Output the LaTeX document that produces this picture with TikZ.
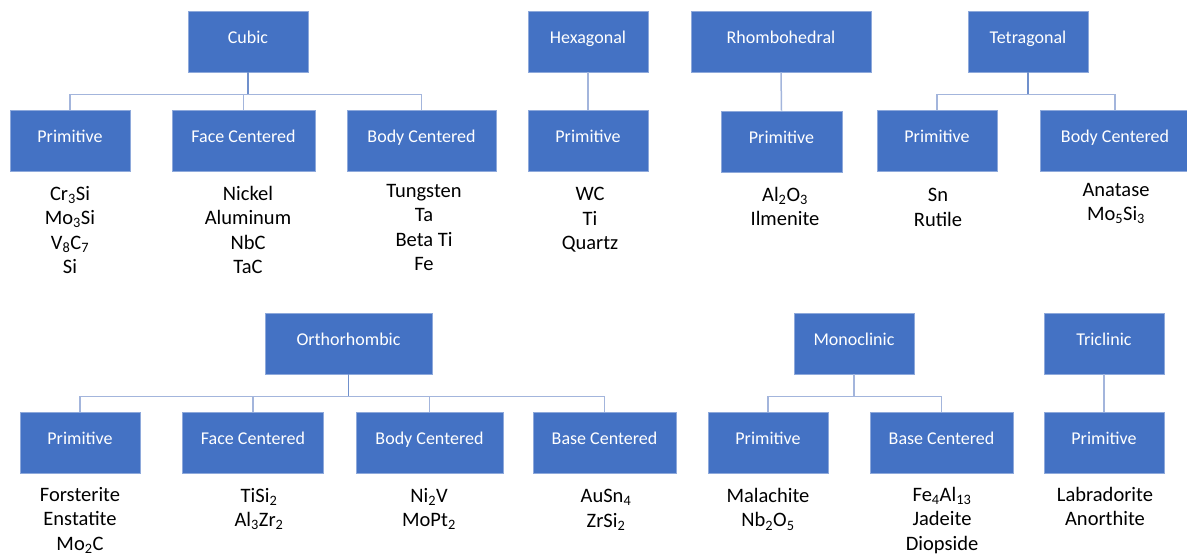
\documentclass[tikz,border=0pt]{standalone}
\usepackage{fontspec}
\setmainfont{Carlito}
\definecolor{boxfill}{HTML}{4472C4}
\definecolor{boxline}{HTML}{8EA9DB}
\definecolor{busline}{HTML}{A3B5DC}
\definecolor{stemline}{HTML}{7090CC}
\tikzset{
  box/.style={rectangle, fill=boxfill, draw=boxline, line width=0.8pt,
    minimum height=61pt, inner sep=0pt, text=white,
    font=\fontsize{18}{20}\selectfont, text height=12pt, text depth=8pt},
  items/.style={anchor=north, align=center, inner sep=0pt,
    font=\fontsize{20.5}{24.5}\selectfont, text=black},
  bus/.style={draw=busline, line width=1.5pt},
  stem/.style={draw=stemline, line width=1.5pt}
}
\begin{document}
\begin{tikzpicture}[x=1pt,y=-1pt]
\useasboundingbox (0,0) rectangle (1187,556);
% top parents
\node[box, minimum width=120pt] (cubic) at (248,41.5) {Cubic};
\node[box, minimum width=120pt] (hex) at (588,41.5) {Hexagonal};
\node[box, minimum width=180pt] (rhomb) at (781,41.5) {Rhombohedral};
\node[box, minimum width=120pt] (tetra) at (1028,41.5) {Tetragonal};
% top children
\node[box, minimum width=120pt] (cprim) at (70,140.5) {Primitive};
\node[box, minimum width=143pt] (cface) at (243.5,140.5) {Face Centered};
\node[box, minimum width=149pt] (cbody) at (421.5,140.5) {Body Centered};
\node[box, minimum width=120pt] (hprim) at (588,140.5) {Primitive};
\node[box, minimum width=121pt] (rprim) at (781.5,141.5) {Primitive};
\node[box, minimum width=120pt] (tprim) at (937,140.5) {Primitive};
\node[box, minimum width=150pt] (tbody) at (1115,140.5) {Body Centered};
% bottom parents
\node[box, minimum width=167pt] (ortho) at (348.5,343.5) {Orthorhombic};
\node[box, minimum width=120pt] (mono) at (854,343.5) {Monoclinic};
\node[box, minimum width=120pt] (tric) at (1104,343.5) {Triclinic};
% bottom children
\node[box, minimum width=120pt] (oprim) at (80,442.5) {Primitive};
\node[box, minimum width=141pt] (oface) at (253,442.5) {Face Centered};
\node[box, minimum width=147pt] (obody) at (429.5,442.5) {Body Centered};
\node[box, minimum width=143pt] (obase) at (604.5,442.5) {Base Centered};
\node[box, minimum width=120pt] (mprim) at (768,442.5) {Primitive};
\node[box, minimum width=143pt] (mbase) at (941.5,442.5) {Base Centered};
\node[box, minimum width=120pt] (triprim) at (1104,442.5) {Primitive};

% connectors
\foreach \c in {cprim,cface,cbody}
  \draw[bus] (cubic.south) -- ++(0pt,-22pt) -| (\c.north);
\draw[stem] (cubic.south) -- ++(0pt,-22pt);
\draw[bus] (hex.south) -- (hprim.north);
\draw[bus] (rhomb.south) -- (rprim.north);
\foreach \c in {tprim,tbody}
  \draw[bus] (tetra.south) -- ++(0pt,-22pt) -| (\c.north);
\draw[stem] (tetra.south) -- ++(0pt,-22pt);
\foreach \c in {oprim,oface,obody,obase}
  \draw[bus] (ortho.south) -- ++(0pt,-22pt) -| (\c.north);
\draw[stem] (ortho.south) -- ++(0pt,-22pt);
\foreach \c in {mprim,mbase}
  \draw[bus] (mono.south) -- ++(0pt,-22pt) -| (\c.north);
\draw[bus] (mono.south) -- ++(0pt,-22pt);
\draw[bus] (tric.south) -- (triprim.north);

% item lists
\node[items] (l1) at (70,186) {Cr\textsubscript{3}Si\\Mo\textsubscript{3}Si\\V\textsubscript{8}C\textsubscript{7}\\Si};
\node[items] (l2) at (248,186) {Nickel\\Aluminum\\NbC\\TaC};
\node[items] (l3) at (424,184) {Tungsten\\Ta\\Beta Ti\\Fe};
\node[items] (l4) at (590,187) {WC\\Ti\\Quartz};
\node[items] (l5) at (785,187) {Al\textsubscript{2}O\textsubscript{3}\\Ilmenite};
\node[items] (l6) at (938,188) {Sn\\Rutile};
\node[items] (l7) at (1116,183) {Anatase\\Mo\textsubscript{5}Si\textsubscript{3}};
\node[items] (l8) at (80,487) {Forsterite\\Enstatite\\Mo\textsubscript{2}C};
\node[items] (l9) at (259,488) {TiSi\textsubscript{2}\\Al\textsubscript{3}Zr\textsubscript{2}};
\node[items] (l10) at (429,488) {Ni\textsubscript{2}V\\MoPt\textsubscript{2}};
\node[items] (l11) at (606,489) {AuSn\textsubscript{4}\\ZrSi\textsubscript{2}};
\node[items] (l12) at (768,488) {Malachite\\Nb\textsubscript{2}O\textsubscript{5}};
\node[items] (l13) at (942,487) {Fe\textsubscript{4}Al\textsubscript{13}\\Jadeite\\Diopside};
\node[items] (l14) at (1105,487) {Labradorite\\Anorthite};
\end{tikzpicture}
\end{document}
